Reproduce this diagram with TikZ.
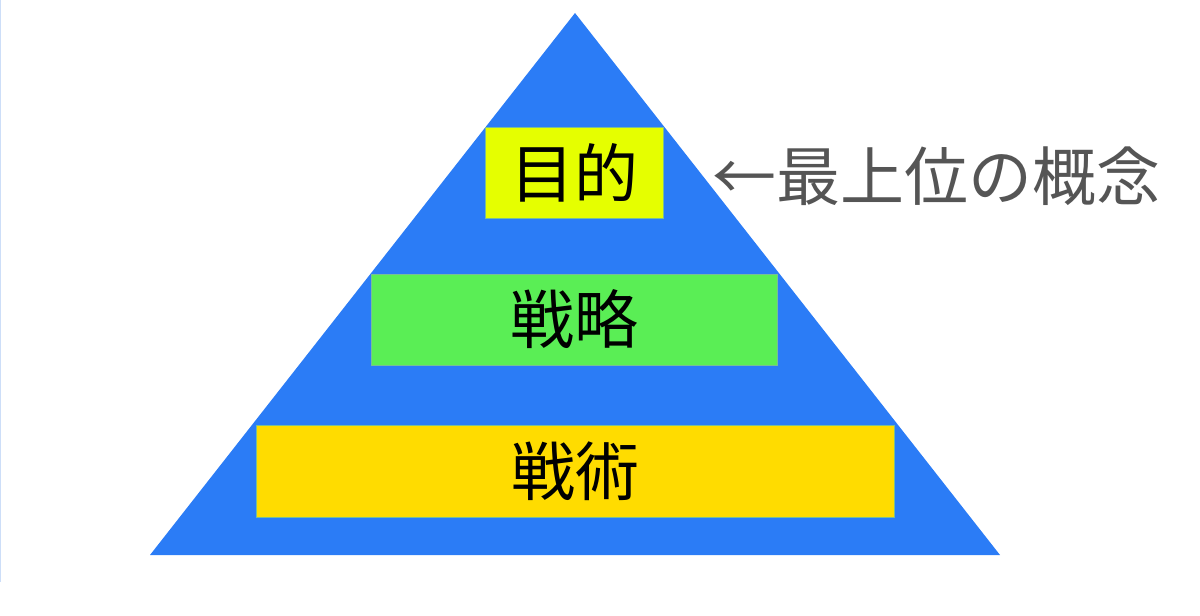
\documentclass[tikz,border=0pt]{standalone}
\usepackage{fontspec}
\newfontfamily\jpfont{Noto Sans CJK JP}
\usepackage{tikz}
\usetikzlibrary{positioning}

\definecolor{pyramidblue}{RGB}{43,124,246}
\definecolor{goalyellow}{RGB}{229,255,0}
\definecolor{strategygreen}{RGB}{90,238,85}
\definecolor{tacticsgold}{RGB}{255,220,0}
\definecolor{edgeline}{RGB}{120,190,150}
\definecolor{labelgray}{RGB}{85,85,85}
\definecolor{sideline}{RGB}{205,222,248}

\tikzset{
  levelbox/.style={rectangle, draw=edgeline, line width=.4pt, inner sep=0, outer sep=0,
    minimum height=2.275cm, font=\jpfont\fontsize{45.5}{50}\selectfont},
}

\begin{document}
\begin{tikzpicture}[x=0.025cm, y=-0.025cm]
  \useasboundingbox (0,0) rectangle (1200,616);
  %---------------- frame ----------------
  \draw[sideline, line width=.8pt] (0.6,0) -- (0.6,582);

  %---------------- pyramid ----------------
  \fill[pyramidblue] (575,13) -- (1000,555) -- (150,555) -- cycle;

  %---------------- levels ----------------
  \node[levelbox, fill=goalyellow, minimum width=4.45cm] (goal) at (574,172.5) {目的};
  \node[levelbox, fill=strategygreen, minimum width=10.15cm] (strategy) at (574,319.5) {戦略};
  \node[levelbox, fill=tacticsgold, minimum width=15.95cm, minimum height=2.3cm] (tactics) at (575,471) {戦術};

  %---------------- label ----------------
  \node[anchor=west, inner sep=0, text=labelgray, font=\jpfont\fontsize{45.5}{50}\selectfont]
    (top) at (712,176) {←最上位の概念};
\end{tikzpicture}
\end{document}
